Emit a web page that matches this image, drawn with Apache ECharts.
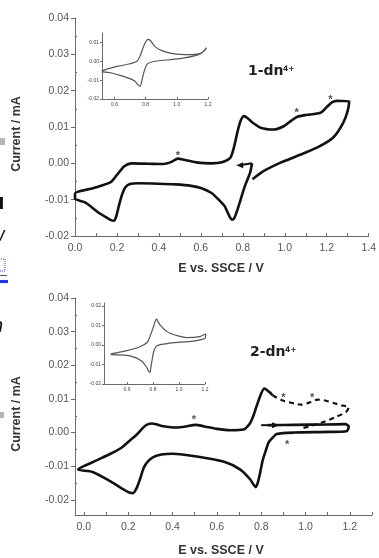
<!DOCTYPE html>
<html>
<head>
<meta charset="utf-8">
<script src="https://cdn.jsdelivr.net/npm/echarts@6/dist/echarts.min.js"></script>
<style>
html, body { margin: 0; padding: 0; background: #fff; }
#chart { width: 379px; height: 558px; }
</style>
</head>
<body>
<div id="chart"></div>
<script>
// ---- data (E / V, I / mA) ----
// 1-dn4+ : main CV, starts at 0.844 V and runs cathodic first
const cv1Main = [[0.844,0.0],[0.835,-0.0025],[0.822,-0.0045],[0.81,-0.0062],[0.79,-0.0099],[0.772,-0.0132],[0.758,-0.0152],[0.748,-0.0155],[0.738,-0.0148],[0.725,-0.0132],[0.712,-0.0117],[0.68,-0.0097],[0.649,-0.0081],[0.6,-0.0068],[0.554,-0.0062],[0.48,-0.0058],[0.397,-0.0056],[0.3,-0.0055],[0.262,-0.0057],[0.24,-0.0066],[0.225,-0.0085],[0.21,-0.0115],[0.197,-0.0145],[0.186,-0.0158],[0.175,-0.0157],[0.15,-0.0149],[0.113,-0.0136],[0.05,-0.0108],[0.0,-0.0097],[0.0,-0.0083],[0.09,-0.0068],[0.17,-0.0052],[0.2,-0.0032],[0.235,-0.0008],[0.27,0.0],[0.35,-0.0001],[0.42,-0.0002],[0.46,0.0004],[0.49,0.0013],[0.52,0.001],[0.586,0.0002],[0.65,0.0],[0.7,0.0003],[0.74,0.0015],[0.758,0.0045],[0.775,0.0088],[0.79,0.0118],[0.806,0.013],[0.822,0.0125],[0.84,0.0115],[0.885,0.0098],[0.948,0.0093],[0.995,0.0102],[1.03,0.0117],[1.06,0.0128],[1.1,0.0133],[1.17,0.0139],[1.2,0.0155],[1.225,0.0168],[1.25,0.0172],[1.307,0.0171],[1.3,0.0145],[1.279,0.0112],[1.231,0.0071],[1.153,0.0043],[1.058,0.002],[0.98,0.0002],[0.9,-0.0021],[0.846,-0.0044]];
const cv1Arrow = [[0.844,0.0],[0.785,-0.0005]];
const cv1Stars = [[0.49,0.0028],[1.057,0.0147],[1.217,0.0183]];
const cv1Inset = [[0.518,-0.0051],[0.58,-0.0035],[0.632,-0.0025],[0.7,-0.0013],[0.744,0.0],[0.765,0.003],[0.785,0.0075],[0.8,0.0103],[0.815,0.0116],[0.83,0.011],[0.86,0.0078],[0.9,0.0058],[0.95,0.0045],[1.0,0.0038],[1.1,0.0035],[1.16,0.0045],[1.19,0.0072],[1.18,0.0058],[1.14,0.0035],[1.05,0.0018],[0.95,0.0008],[0.85,-0.0001],[0.81,-0.0015],[0.79,-0.0055],[0.775,-0.0105],[0.765,-0.0132],[0.755,-0.0128],[0.73,-0.0105],[0.7,-0.0092],[0.632,-0.0074],[0.58,-0.0062],[0.518,-0.0055]];

// 2-dn4+ : solid scan, then the dashed part of the first sweep
const cv2Main = [[0.83,0.0022],[0.95,0.0023],[1.1,0.0024],[1.18,0.0025],[1.195,0.0018],[1.185,0.0004],[1.1,0.0002],[0.95,0.0],[0.87,-0.0004],[0.855,-0.0013],[0.835,-0.0028],[0.82,-0.0055],[0.807,-0.0082],[0.795,-0.012],[0.785,-0.0148],[0.776,-0.0162],[0.766,-0.0155],[0.749,-0.0138],[0.706,-0.011],[0.633,-0.0087],[0.517,-0.0072],[0.4,-0.0063],[0.35,-0.0065],[0.315,-0.0072],[0.29,-0.0085],[0.27,-0.0105],[0.255,-0.0135],[0.238,-0.0165],[0.222,-0.018],[0.205,-0.0178],[0.184,-0.0171],[0.112,-0.0142],[0.039,-0.0117],[-0.026,-0.011],[0.05,-0.0085],[0.12,-0.0063],[0.17,-0.0045],[0.2,-0.0028],[0.24,-0.0005],[0.271,0.0017],[0.29,0.0025],[0.307,0.0027],[0.33,0.0024],[0.358,0.0019],[0.416,0.0015],[0.46,0.0018],[0.503,0.0023],[0.54,0.0019],[0.6,0.0011],[0.662,0.0007],[0.72,0.0009],[0.749,0.0027],[0.765,0.005],[0.778,0.0076],[0.8,0.0116],[0.814,0.0131],[0.836,0.0121],[0.851,0.0111]];
const cv2Dash = [[0.851,0.0111],[0.894,0.0096],[0.952,0.0086],[0.981,0.0083],[1.025,0.0091],[1.054,0.0098],[1.083,0.0096],[1.126,0.0088],[1.162,0.0081],[1.195,0.0076],[1.184,0.0062],[1.14,0.0047],[1.083,0.0032],[1.025,0.002],[0.98,0.0012]];
const cv2Arrow = [[0.8,0.0022],[0.865,0.0022]];
const cv2Stars = [[0.496,0.0047],[0.9,0.0113],[1.03,0.0113],[0.917,-0.0028]];
const cv2Inset = [[0.475,-0.0046],[0.6,-0.0029],[0.7,-0.0009],[0.756,0.0014],[0.78,0.005],[0.8,0.0086],[0.815,0.0118],[0.828,0.0132],[0.84,0.0118],[0.854,0.0103],[0.9,0.0072],[0.93,0.006],[1.0,0.0045],[1.06,0.0038],[1.16,0.0043],[1.205,0.0056],[1.2,0.0034],[1.11,0.002],[0.93,0.0009],[0.828,-0.0005],[0.81,-0.0025],[0.8,-0.0051],[0.785,-0.011],[0.777,-0.014],[0.765,-0.0133],[0.756,-0.012],[0.713,-0.0082],[0.623,-0.0056],[0.475,-0.005]];

// tick labels
const xLabels1 = [0, 0.2, 0.4, 0.6, 0.8, 1.0, 1.2, 1.4];
const xLabels2 = [0, 0.2, 0.4, 0.6, 0.8, 1.0, 1.2];
const xTicks1 = [0,0.1,0.2,0.3,0.4,0.5,0.6,0.7,0.8,0.9,1.0,1.1,1.2,1.3,1.4];
const xTicks2 = [0,0.1,0.2,0.3,0.4,0.5,0.6,0.7,0.8,0.9,1.0,1.1,1.2,1.3];
const yLabels = [-0.02, -0.01, 0, 0.01, 0.02, 0.03, 0.04];
const yMinor = [-0.015, -0.005, 0.005, 0.015, 0.025, 0.035];
const insetXLabels = [0.6, 0.8, 1.0, 1.2];
const inset1YLabels = [-0.02, -0.01, 0, 0.01];
const inset2YLabels = [-0.02, -0.01, 0, 0.01, 0.02];

const AX = '#6a6a6a';
const FONT = 'Liberation Sans';

function xAx(grid, min, max, labels, ticks, small) {
    return {
        type: 'value', gridIndex: grid, min: min, max: max, position: 'bottom',
        splitLine: { show: false },
        axisLine: { onZero: false, lineStyle: { color: AX, width: 1 } },
        axisTick: { customValues: ticks, inside: true, length: small ? 2 : 3, lineStyle: { color: AX } },
        axisLabel: {
            customValues: labels, margin: small ? 3 : 7,
            fontSize: small ? 5 : 10.5, fontFamily: FONT, color: small ? '#444' : '#555',
            formatter: v => v.toFixed(1)
        }
    };
}
function yAx(grid, min, max, labels, small) {
    return {
        type: 'value', gridIndex: grid, min: min, max: max, position: 'left',
        splitLine: { show: false },
        axisLine: { onZero: false, lineStyle: { color: AX, width: 1 } },
        axisTick: { customValues: labels, length: small ? 2 : 4, lineStyle: { color: AX } },
        axisLabel: {
            customValues: labels, margin: small ? 3 : 6,
            fontSize: small ? 5 : 10.5, fontFamily: FONT, color: small ? '#444' : '#555',
            formatter: v => v.toFixed(2)
        }
    };
}
function yMinorAx(grid, min, max) {
    return {
        type: 'value', gridIndex: grid, min: min, max: max, position: 'left',
        splitLine: { show: false }, axisLine: { show: false, onZero: false },
        axisTick: { customValues: yMinor, inside: true, length: 2, lineStyle: { color: AX } },
        axisLabel: { show: false }
    };
}

function curve(data, xi, yi, opt) {
    return Object.assign({
        type: 'line', data: data, xAxisIndex: xi, yAxisIndex: yi,
        showSymbol: false, symbol: 'none', smooth: 0.25, silent: true,
        lineStyle: { color: '#111', width: 2.6 }
    }, opt || {});
}
function stars(data, xi, yi) {
    return {
        type: 'scatter', data: data, xAxisIndex: xi, yAxisIndex: yi, symbolSize: 1,
        itemStyle: { color: 'rgba(0,0,0,0)' }, silent: true,
        label: { show: true, position: 'inside', formatter: '*', fontSize: 11, fontWeight: 'bold', color: '#222', fontFamily: FONT, offset: [0, 3] }
    };
}
function arrow(data, xi, yi, rot) {
    return {
        type: 'line', xAxisIndex: xi, yAxisIndex: yi, silent: true, showSymbol: true,
        data: [{ value: data[0], symbol: 'none' }, { value: data[1], symbol: 'triangle', symbolSize: [6, 7], symbolRotate: rot }],
        lineStyle: { color: '#111', width: 2 }, itemStyle: { color: '#111' }
    };
}

const chart = echarts.init(document.getElementById('chart'), null, { renderer: 'canvas' });
chart.setOption({
    animation: false,
    backgroundColor: '#fff',
    grid: [
        { left: 75, top: 18, width: 297, height: 218 },
        { left: 102, top: 33, width: 106, height: 66 },
        { left: 75, top: 298, width: 297, height: 217 },
        { left: 104, top: 303, width: 101, height: 81 }
    ],
    xAxis: [
        xAx(0, 0, 1.4, xLabels1, xTicks1),
        xAx(1, 0.52, 1.2, insetXLabels, insetXLabels, true),
        xAx(2, -0.04, 1.3, xLabels2, xTicks2),
        xAx(3, 0.423, 1.2, insetXLabels, insetXLabels, true)
    ],
    yAxis: [
        yAx(0, -0.02, 0.04, yLabels),
        yAx(1, -0.02, 0.015, inset1YLabels, true),
        yAx(2, -0.0245, 0.04, yLabels),
        yAx(3, -0.02, 0.0215, inset2YLabels, true),
        yMinorAx(0, -0.02, 0.04),
        yMinorAx(2, -0.0245, 0.04)
    ],
    series: [
        curve(cv1Main, 0, 0),
        arrow(cv1Arrow, 0, 0, 90),
        stars(cv1Stars, 0, 0),
        curve(cv1Inset, 1, 1, { lineStyle: { color: '#555', width: 1.2 } }),
        curve(cv2Main, 2, 2),
        curve(cv2Dash, 2, 2, { lineStyle: { color: '#111', width: 2.2, type: [5, 4] } }),
        arrow(cv2Arrow, 2, 2, -90),
        stars(cv2Stars, 2, 2),
        curve(cv2Inset, 3, 3, { lineStyle: { color: '#555', width: 1.2 } })
    ],
    graphic: [
        { type: 'text', x: 17, y: 134, rotation: Math.PI / 2, style: { text: 'Current / mA', font: 'bold 12.5px Liberation Sans', fill: '#333', align: 'center', verticalAlign: 'middle' } },
        { type: 'text', x: 17, y: 414, rotation: Math.PI / 2, style: { text: 'Current / mA', font: 'bold 12.5px Liberation Sans', fill: '#333', align: 'center', verticalAlign: 'middle' } },
        { type: 'text', x: 221, y: 269, style: { text: 'E vs. SSCE / V', font: 'bold 12.5px Liberation Sans', fill: '#333', align: 'center', verticalAlign: 'middle' } },
        { type: 'text', x: 221, y: 551, style: { text: 'E vs. SSCE / V', font: 'bold 12.5px Liberation Sans', fill: '#333', align: 'center', verticalAlign: 'middle' } },
        { type: 'text', x: 248, y: 78, style: { text: '1-dn', font: 'bold 14px DejaVu Sans', fill: '#222', verticalAlign: 'bottom' } },
        { type: 'text', x: 283, y: 73, style: { text: '4+', font: 'bold 7.5px DejaVu Sans', fill: '#222', verticalAlign: 'bottom' } },
        { type: 'text', x: 250, y: 359, style: { text: '2-dn', font: 'bold 14px DejaVu Sans', fill: '#222', verticalAlign: 'bottom' } },
        { type: 'text', x: 285, y: 354, style: { text: '4+', font: 'bold 7.5px DejaVu Sans', fill: '#222', verticalAlign: 'bottom' } },
        // bits of the surrounding page cut off at the left edge
        { type: 'rect', shape: { x: 0, y: 138, width: 5, height: 7 }, style: { fill: '#b5b5b5' } },
        { type: 'text', x: -9, y: 214, style: { text: 'u', font: 'bold 22px Liberation Sans', fill: '#111', verticalAlign: 'bottom' } },
        { type: 'text', x: -10, y: 245, style: { text: 'w', font: 'italic 20px Liberation Sans', fill: '#111', verticalAlign: 'bottom' } },
        { type: 'rect', shape: { x: -5, y: 259, width: 10, height: 12 }, style: { fill: 'none', stroke: '#3344dd', lineWidth: 1, lineDash: [1, 1] } },
        { type: 'rect', shape: { x: 0, y: 275, width: 7, height: 1 }, style: { fill: '#3344dd' } },
        { type: 'rect', shape: { x: 0, y: 280, width: 8, height: 3 }, style: { fill: '#2233ee' } },
        { type: 'text', x: -8, y: 336, style: { text: 'n', font: 'italic 20px Liberation Sans', fill: '#111', verticalAlign: 'bottom' } },
        { type: 'rect', shape: { x: 0, y: 412, width: 4, height: 6 }, style: { fill: '#b5b5b5' } }
    ]
});
</script>
</body>
</html>
